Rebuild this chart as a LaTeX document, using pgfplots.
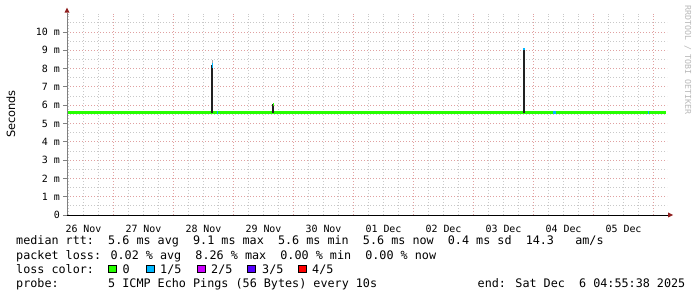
\documentclass[border=0pt]{standalone}
\usepackage{fontspec}
\usepackage{pgfplots}
\pgfplotsset{compat=1.18}
\setmainfont{DejaVu Sans}
\newfontfamily\mono{DejaVu Sans Mono}
\definecolor{lossA}{HTML}{26FF00}
\definecolor{lossB}{HTML}{00B8FF}
\definecolor{lossC}{HTML}{CC00FF}
\definecolor{lossD}{HTML}{5500FF}
\definecolor{lossE}{HTML}{FF0000}
\definecolor{majgrid}{HTML}{E0A0A0}
\definecolor{mingrid}{HTML}{C8C8C8}
\definecolor{arrowred}{HTML}{902020}
\definecolor{smoke}{HTML}{202020}
\begin{document}
\begin{tikzpicture}
\useasboundingbox[fill=white] (0,0) rectangle (697bp,297bp);
\begin{axis}[
  name=ax,
  at={(67bp,82bp)}, anchor=south west,
  scale only axis, width=600bp, height=201.3bp,
  xmin=5.4, xmax=245.4, ymin=0, ymax=11,
  axis line style={draw=none},
  tick pos=left,
  xtick={12,36,60,84,108,132,156,180,204,228},
  xticklabels={26 Nov,27 Nov,28 Nov,29 Nov,30 Nov,01 Dec,02 Dec,03 Dec,04 Dec,05 Dec},
  ytick={0,1,2,3,4,5,6,7,8,9,10},
  yticklabels={0,1 m,2 m,3 m,4 m,5 m,6 m,7 m,8 m,9 m,10 m},
  minor xtick={6,12,18,30,36,42,54,60,66,78,84,90,102,108,114,126,132,138,150,156,162,174,180,186,198,204,210,222,228,234},
  minor ytick={0.5,1.5,2.5,3.5,4.5,5.5,6.5,7.5,8.5,9.5,10.5},
  xmajorgrids=false, ymajorgrids=true, xminorgrids=true, yminorgrids=true,
  major grid style={draw=majgrid, dash pattern=on 1bp off 2bp, line width=0.8bp},
  minor grid style={draw=mingrid, dash pattern=on 1bp off 2bp, line width=0.8bp},
  extra x ticks={24,48,72,96,120,144,168,192,216,240},
  extra x tick labels={},
  extra x tick style={xmajorgrids=true, major tick length=0pt},
  xtick style={draw=none},
  ytick style={draw=gray, line width=0.8bp},
  major tick length=4bp, minor tick length=0pt,
  tick align=outside,
  /pgf/number format/assume math mode=true,
  xticklabel style={font=\mono\fontsize{10}{12}\selectfont, anchor=base, inner sep=0pt, yshift=-13bp},
  yticklabel style={font=\mono\fontsize{10}{12}\selectfont, anchor=east, inner sep=0pt, xshift=-3bp},
]
% median rtt (0 loss)
\addplot[lossA, line width=3.0bp, line cap=butt] coordinates {
(5.8,5.58) (12,5.58) (24,5.58) (36,5.58) (48,5.58) (60,5.58) (63.4,5.58)
(72,5.58) (84,5.58) (87.7,5.58) (96,5.58) (108,5.58) (120,5.58) (132,5.58)
(144,5.58) (156,5.58) (168,5.58) (180,5.58) (188.1,5.58) (192,5.58)
(204,5.58) (216,5.58) (228,5.58) (240,5.58) (245.0,5.58)};
% smoke spikes
\addplot[smoke, line width=2.2bp, line cap=butt] coordinates {(63.4,5.6) (63.4,8.2)};
\addplot[smoke, line width=2.0bp, line cap=butt] coordinates {(87.7,5.6) (87.7,6.05)};
\addplot[smoke, line width=2.4bp, line cap=butt] coordinates {(188.1,5.6) (188.1,9.05)};
% loss coloured tops
\addplot[gray!70, line width=1.2bp, line cap=butt] coordinates {(63.6,8.3) (63.6,8.47)};
\addplot[lossB, line width=1.2bp, line cap=butt] coordinates {(63.6,8.05) (63.6,8.32)};
\addplot[lossA, line width=1.2bp, line cap=butt] coordinates {(87.9,5.95) (87.9,6.12)};
\addplot[lossB, line width=2.0bp, line cap=butt] coordinates {(188.2,9.0) (188.2,9.15)};
% 1/5 loss blips on the median
\addplot[lossB, line width=3.0bp, line cap=butt] coordinates {(65.2,5.58) (65.6,5.58)};
\addplot[lossB, line width=3.0bp, line cap=butt] coordinates {(199.6,5.58) (200.8,5.58)};
\addplot[lossB, line width=3.0bp, line cap=butt] coordinates {(237.6,5.58) (238.0,5.58)};
\end{axis}
% axes with arrows
\draw[black, line width=0.8bp] (ax.south west) -- ([xshift=1bp]ax.south east);
\fill[arrowred] ([xshift=1bp,yshift=2.5bp]ax.south east) -- ++(5bp,-2.5bp) -- ++(-5bp,-2.5bp) -- cycle;
\draw[gray, line width=0.8bp] (ax.south west) -- ([yshift=1bp]ax.north west);
\fill[arrowred] ([xshift=-2.5bp,yshift=1bp]ax.north west) -- ++(2.5bp,5bp) -- ++(2.5bp,-5bp) -- cycle;
% y label
\node[rotate=90, anchor=base, font=\fontsize{11.4}{13}\selectfont, inner sep=0pt] at (15bp,183bp) {Seconds};
% watermark
\node[rotate=-90, anchor=base west, font=\mono\fontsize{8.3}{10}\selectfont, text=gray!55, inner sep=0pt] at (685bp,292bp) {RRDTOOL / TOBI OETIKER};
% text lines
\begin{scope}[every node/.style={anchor=base west, inner sep=0pt, font=\mono\fontsize{11.8}{14}\selectfont}]
\node at (16bp,52bp) {median rtt:~~5.6 ms avg~~9.1 ms max~~5.6 ms min~~5.6 ms now~~0.4 ms sd~~14.3~~~am/s};
\node at (16bp,38bp) {packet loss: 0.02 \% avg~~8.26 \% max~~0.00 \% min~~0.00 \% now};
\node at (16bp,24bp) {loss color:};
\node at (122.5bp,24bp) {0};
\node at (160bp,24bp) {1/5};
\node at (211bp,24bp) {2/5};
\node at (262bp,24bp) {3/5};
\node at (312bp,24bp) {4/5};
\node at (16bp,10bp) {probe:~~~~~~~5 ICMP Echo Pings (56 Bytes) every 10s};
\node at (477.5bp,10bp) {end: Sat Dec~~6 04:55:38 2025};
\end{scope}
\begin{scope}[line width=0.8bp]
\filldraw[fill=lossA, draw=black] (108.5bp,24.5bp) rectangle ++(7.5bp,7.5bp);
\filldraw[fill=lossB, draw=black] (146.5bp,24.5bp) rectangle ++(7.5bp,7.5bp);
\filldraw[fill=lossC, draw=black] (197.5bp,24.5bp) rectangle ++(7.5bp,7.5bp);
\filldraw[fill=lossD, draw=black] (247.5bp,24.5bp) rectangle ++(7.5bp,7.5bp);
\filldraw[fill=lossE, draw=black] (298.5bp,24.5bp) rectangle ++(7.5bp,7.5bp);
\end{scope}
\end{tikzpicture}
\end{document}
